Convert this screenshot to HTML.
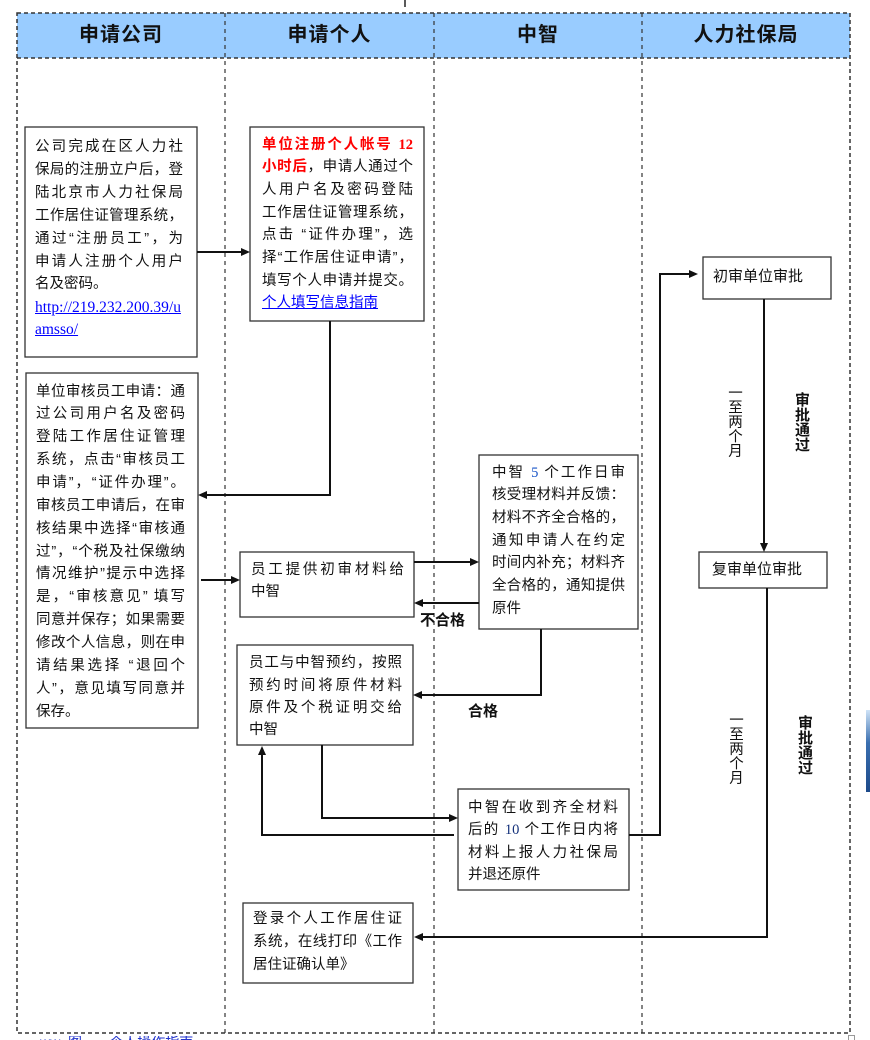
<!DOCTYPE html>
<html>
<head>
<meta charset="utf-8">
<style>
  html,body{margin:0;padding:0;}
  body{width:870px;height:1040px;overflow:hidden;background:#fff;position:relative;
       font-family:"Liberation Sans","Noto Sans CJK SC",sans-serif;color:#111;}
  svg{position:absolute;left:0;top:0;}
  .h{position:absolute;top:13px;height:45px;line-height:45px;text-align:center;
     font-size:20px;font-weight:700;color:#111;letter-spacing:1px;}
  .l{position:absolute;height:23px;line-height:23px;font-size:14.5px;white-space:nowrap;
     text-align:justify;text-align-last:justify;}
  .n{text-align:left;text-align-last:left;}
  .red{color:#ff0000;font-weight:700;}
  .lnk{color:#0000ff;text-decoration:underline;}
  .ser{font-family:"Liberation Serif","Noto Serif CJK SC",serif;}
  .b{font-weight:700;}
  .v{position:absolute;writing-mode:vertical-rl;font-size:14.5px;line-height:16px;color:#111;}
  .lab{position:absolute;font-size:15px;font-weight:700;line-height:18px;color:#111;white-space:nowrap;}
</style>
</head>
<body>
<svg width="870" height="1040" viewBox="0 0 870 1040">
  <rect x="17" y="13" width="833" height="45" fill="#99ccff"/>
  <rect x="17" y="13" width="833" height="1020" fill="none" stroke="#333" stroke-width="1.5" stroke-dasharray="4 3"/>
  <line x1="17" y1="58" x2="850" y2="58" stroke="#333" stroke-width="1.5" stroke-dasharray="4 3"/>
  <line x1="225" y1="13" x2="225" y2="1033" stroke="#333" stroke-width="1.2" stroke-dasharray="4 4"/>
  <line x1="434" y1="13" x2="434" y2="1033" stroke="#333" stroke-width="1.2" stroke-dasharray="4 4"/>
  <line x1="642" y1="13" x2="642" y2="1033" stroke="#333" stroke-width="1.2" stroke-dasharray="4 4"/>
  <line x1="405" y1="0" x2="405" y2="7" stroke="#222" stroke-width="1.5"/>

  <g fill="#fff" stroke="#333" stroke-width="1.3">
    <rect x="25" y="127" width="172" height="230"/>
    <rect x="250" y="127" width="174" height="194"/>
    <rect x="26" y="373" width="172" height="355"/>
    <rect x="240" y="552" width="174" height="65"/>
    <rect x="237" y="645" width="176" height="100"/>
    <rect x="479" y="455" width="159" height="174"/>
    <rect x="458" y="789" width="171" height="101"/>
    <rect x="703" y="257" width="128" height="42"/>
    <rect x="699" y="552" width="128" height="36"/>
    <rect x="243" y="903" width="170" height="80"/>
  </g>

  <g fill="none" stroke="#111" stroke-width="2">
    <path d="M197,252 H242"/>
    <path d="M330,321 V495 H206"/>
    <path d="M201,580 H232"/>
    <path d="M414,562 H471"/>
    <path d="M479,603 H422"/>
    <path d="M541,629 V695 H421"/>
    <path d="M322,745 V818 H450"/>
    <path d="M454,835 H262 V754"/>
    <path d="M629,835 H660 V274 H690"/>
    <path d="M764,299 V544"/>
    <path d="M767,588 V937 H422"/>
  </g>
  <g fill="#111">
    <polygon points="250,252 241,248 241,256"/>
    <polygon points="198,495 207,491 207,499"/>
    <polygon points="240,580 231,576 231,584"/>
    <polygon points="479,562 470,558 470,566"/>
    <polygon points="414,603 423,599 423,607"/>
    <polygon points="413,695 422,691 422,699"/>
    <polygon points="458,818 449,814 449,822"/>
    <polygon points="262,746 258,755 266,755"/>
    <polygon points="698,274 689,270 689,278"/>
    <polygon points="764,552 760,543 768,543"/>
    <polygon points="414,937 423,933 423,941"/>
  </g>
</svg>

<div class="h" style="left:17px;width:208px;">申请公司</div>
<div class="h" style="left:225px;width:209px;">申请个人</div>
<div class="h" style="left:434px;width:208px;">中智</div>
<div class="h" style="left:642px;width:208px;">人力社保局</div>

<div class="l" style="left:35px;width:148px;top:135.5px;">公司完成在区人力社</div>
<div class="l" style="left:35px;width:148px;top:158.5px;">保局的注册立户后，登</div>
<div class="l" style="left:35px;width:148px;top:181.5px;">陆北京市人力社保局</div>
<div class="l" style="left:35px;width:148px;top:204.5px;">工作居住证管理系统，</div>
<div class="l" style="left:35px;width:148px;top:227.5px;">通过“注册员工”，为</div>
<div class="l" style="left:35px;width:148px;top:250.5px;">申请人注册个人用户</div>
<div class="l n" style="left:35px;width:148px;top:272.5px;">名及密码。</div>
<div class="l n ser lnk" style="left:35px;width:150px;top:295.5px;font-size:15.5px;">http://219.232.200.39/u</div>
<div class="l n ser lnk" style="left:35px;width:150px;top:317.5px;font-size:15.5px;">amsso/</div>

<div class="l red" style="left:262px;width:151px;top:133.5px;">单位注册个人帐号 <span class="ser">12</span></div>
<div class="l" style="left:262px;width:151px;top:156.2px;"><span class="red">小时后</span>，申请人通过个</div>
<div class="l" style="left:262px;width:151px;top:178.9px;">人用户名及密码登陆</div>
<div class="l" style="left:262px;width:151px;top:201.6px;">工作居住证管理系统，</div>
<div class="l" style="left:262px;width:151px;top:224.3px;">点击 “证件办理”，选</div>
<div class="l" style="left:262px;width:151px;top:247px;">择“工作居住证申请”，</div>
<div class="l" style="left:262px;width:151px;top:269.7px;">填写个人申请并提交。</div>
<div class="l n lnk" style="left:262px;width:151px;top:292.4px;">个人填写信息指南</div>

<div class="l" style="left:36px;width:149px;top:380.5px;">单位审核员工申请：通</div>
<div class="l" style="left:36px;width:149px;top:403.4px;">过公司用户名及密码</div>
<div class="l" style="left:36px;width:149px;top:426.2px;">登陆工作居住证管理</div>
<div class="l" style="left:36px;width:149px;top:449.1px;">系统，点击“审核员工</div>
<div class="l" style="left:36px;width:149px;top:471.9px;">申请”，“证件办理”。</div>
<div class="l" style="left:36px;width:149px;top:494.8px;">审核员工申请后，在审</div>
<div class="l" style="left:36px;width:149px;top:517.7px;">核结果中选择“审核通</div>
<div class="l" style="left:36px;width:149px;top:540.5px;">过”，“个税及社保缴纳</div>
<div class="l" style="left:36px;width:149px;top:563.4px;">情况维护”提示中选择</div>
<div class="l" style="left:36px;width:149px;top:586.2px;">是，“审核意见” 填写</div>
<div class="l" style="left:36px;width:149px;top:609.1px;">同意并保存；如果需要</div>
<div class="l" style="left:36px;width:149px;top:632px;">修改个人信息，则在申</div>
<div class="l" style="left:36px;width:149px;top:654.8px;">请结果选择 “退回个</div>
<div class="l" style="left:36px;width:149px;top:677.7px;">人”，意见填写同意并</div>
<div class="l n" style="left:36px;width:149px;top:700.5px;">保存。</div>

<div class="l" style="left:251px;width:153px;top:558.5px;">员工提供初审材料给</div>
<div class="l n" style="left:251px;width:153px;top:580.5px;">中智</div>

<div class="l" style="left:249px;width:153px;top:651.5px;">员工与中智预约，按照</div>
<div class="l" style="left:249px;width:153px;top:674.5px;">预约时间将原件材料</div>
<div class="l" style="left:249px;width:153px;top:696.5px;">原件及个税证明交给</div>
<div class="l n" style="left:249px;width:153px;top:718.5px;">中智</div>

<div class="l" style="left:492px;width:133px;top:461.5px;">中智 <span class="ser" style="color:#1a56c8;">5</span> 个工作日审</div>
<div class="l" style="left:492px;width:133px;top:484.2px;">核受理材料并反馈：</div>
<div class="l" style="left:492px;width:133px;top:506.9px;">材料不齐全合格的，</div>
<div class="l" style="left:492px;width:133px;top:529.6px;">通知申请人在约定</div>
<div class="l" style="left:492px;width:133px;top:552.3px;">时间内补充；材料齐</div>
<div class="l" style="left:492px;width:133px;top:575px;">全合格的，通知提供</div>
<div class="l n" style="left:492px;width:133px;top:597.7px;">原件</div>

<div class="l" style="left:468px;width:150px;top:796.5px;">中智在收到齐全材料</div>
<div class="l" style="left:468px;width:150px;top:819px;">后的 <span class="ser" style="color:#13307a;">10</span> 个工作日内将</div>
<div class="l" style="left:468px;width:150px;top:841.5px;">材料上报人力社保局</div>
<div class="l n" style="left:468px;width:150px;top:864px;">并退还原件</div>

<div class="l n" style="left:713px;width:110px;top:264.5px;font-size:15px;">初审单位审批</div>
<div class="l n" style="left:712px;width:110px;top:557.5px;font-size:15px;">复审单位审批</div>

<div class="l" style="left:253px;width:149px;top:907.5px;">登录个人工作居住证</div>
<div class="l" style="left:253px;width:149px;top:930.5px;">系统，在线打印《工作</div>
<div class="l n" style="left:253px;width:149px;top:953.5px;">居住证确认单》</div>

<div class="lab" style="left:420px;top:612px;">不合格</div>
<div class="lab" style="left:468px;top:703px;">合格</div>

<div class="v" style="left:726px;top:385px;">一至两个月</div>
<div class="v b" style="left:793px;top:392px;font-size:15px;">审批通过</div>
<div class="v" style="left:727px;top:712px;">一至两个月</div>
<div class="v b" style="left:796px;top:715px;font-size:15px;">审批通过</div>

<div style="position:absolute;left:866px;top:710px;width:4px;height:82px;background:linear-gradient(#cfe3f7,#3a6fb0 40%,#1d4a8a);"></div>
<div style="position:absolute;left:40px;top:1036px;height:4px;overflow:hidden;font-size:14px;color:#2233cc;white-space:nowrap;line-height:16px;"><div style="margin-top:-2px;">ww&nbsp;&nbsp;图&nbsp;&nbsp;&nbsp;&nbsp;&nbsp;&nbsp;&nbsp;个人操作指南</div></div>
<div style="position:absolute;left:848px;top:1035px;width:5px;height:4px;border:1px solid #999;border-bottom:none;"></div>
</body>
</html>
